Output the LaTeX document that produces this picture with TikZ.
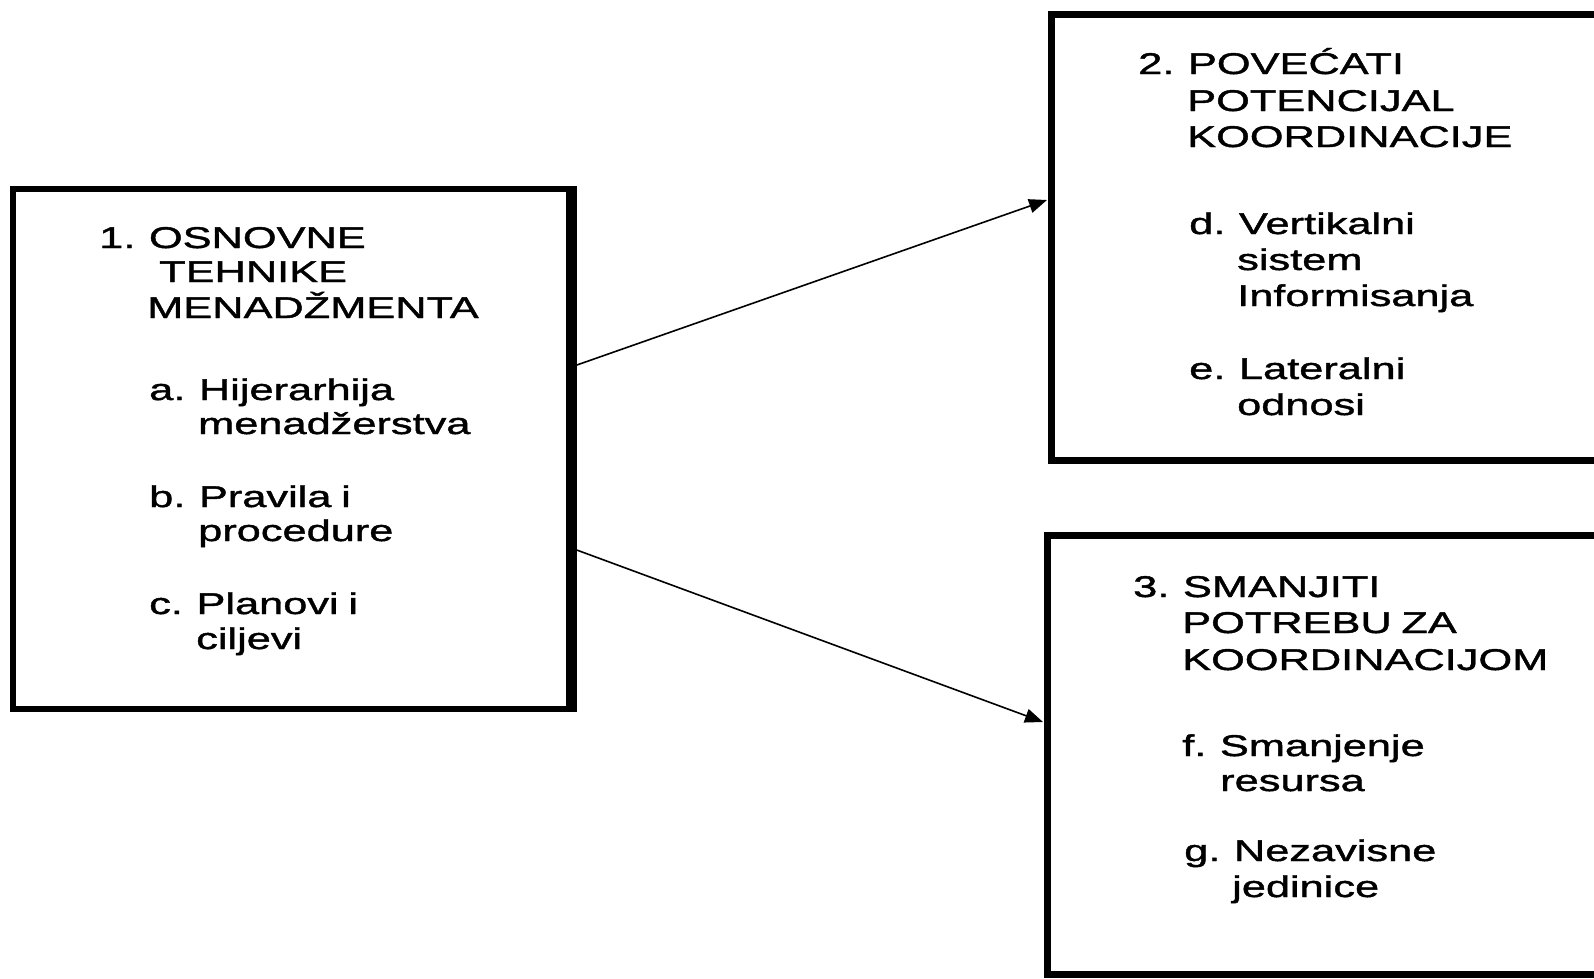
\documentclass[tikz,border=0pt]{standalone}
\usepackage{fontspec}
\setmainfont{Liberation Sans}[FakeStretch=1.445, FakeBold=1.4, WordSpace=0.8]
\usetikzlibrary{arrows.meta}
\begin{document}
\begin{tikzpicture}[x=1pt,y=-1pt,
  frame/.style={draw, line width=6pt, rectangle, inner sep=0pt},
  txt/.style={anchor=base west, inner sep=0pt, font=\fontsize{30}{36}\selectfont},
  link/.style={line width=1.6pt, -{Triangle[length=18pt,width=14pt]}}]
\useasboundingbox (0,0) rectangle (1594,978);
\clip (0,0) rectangle (1594,978);

% boxes (the two on the right run past the page edge)
\node[frame, minimum width=556pt, minimum height=520pt] (b1) at (291,449) {};
\draw[line width=10pt] (b1.north east) -- (b1.south east);
\node[frame, line width=7pt, minimum width=649pt, minimum height=446pt] (b2) at (1375.5,237) {};
\draw[line width=5pt] ([xshift=4pt]b2.north west) -- ([xshift=4pt]b2.south west);
\node[frame, line width=7pt, minimum width=653pt, minimum height=439pt] (b3) at (1373.5,754.5) {};
\draw[line width=4pt] ([xshift=3pt]b3.north west) -- ([xshift=3pt]b3.south west);

% box 1 text
\node[txt] (t1a) at (99,248) {1. OSNOVNE};
\node[txt] (t1b) at (159,282) {TEHNIKE};
\node[txt] (t1c) at (147,318) {MENADŽMENTA};
\node[txt] (t1d) at (149,400) {a. Hijerarhija};
\node[txt] (t1e) at (198,434) {menadžerstva};
\node[txt] (t1f) at (149,507) {b. Pravila i};
\node[txt] (t1g) at (198,541) {procedure};
\node[txt] (t1h) at (149,614) {c. Planovi i};
\node[txt] (t1i) at (196,649) {ciljevi};

% box 2 text
\node[txt] (t2a) at (1138,74) {2. POVEĆATI};
\node[txt] (t2b) at (1187,111) {POTENCIJAL};
\node[txt] (t2c) at (1187,147) {KOORDINACIJE};
\node[txt] (t2d) at (1189,234) {d. Vertikalni};
\node[txt] (t2e) at (1237,270) {sistem};
\node[txt] (t2f) at (1237,306) {Informisanja};
\node[txt] (t2g) at (1189,379) {e. Lateralni};
\node[txt] (t2h) at (1237,415) {odnosi};

% box 3 text
\node[txt] (t3a) at (1133,597) {3. SMANJITI};
\node[txt] (t3b) at (1182,633) {POTREBU ZA};
\node[txt] (t3c) at (1182,670) {KOORDINACIJOM};
\node[txt] (t3d) at (1182,756) {f. Smanjenje};
\node[txt] (t3e) at (1220,791) {resursa};
\node[txt] (t3f) at (1184,861) {g. Nezavisne};
\node[txt] (t3g) at (1232,897) {jedinice};

% connectors
\coordinate (s1) at (574,366);
\coordinate (e1) at (1047,200);
\coordinate (s2) at (574,549);
\coordinate (e2) at (1043,722);
\draw[link] (s1) -- (e1);
\draw[link] (s2) -- (e2);
\end{tikzpicture}
\end{document}
